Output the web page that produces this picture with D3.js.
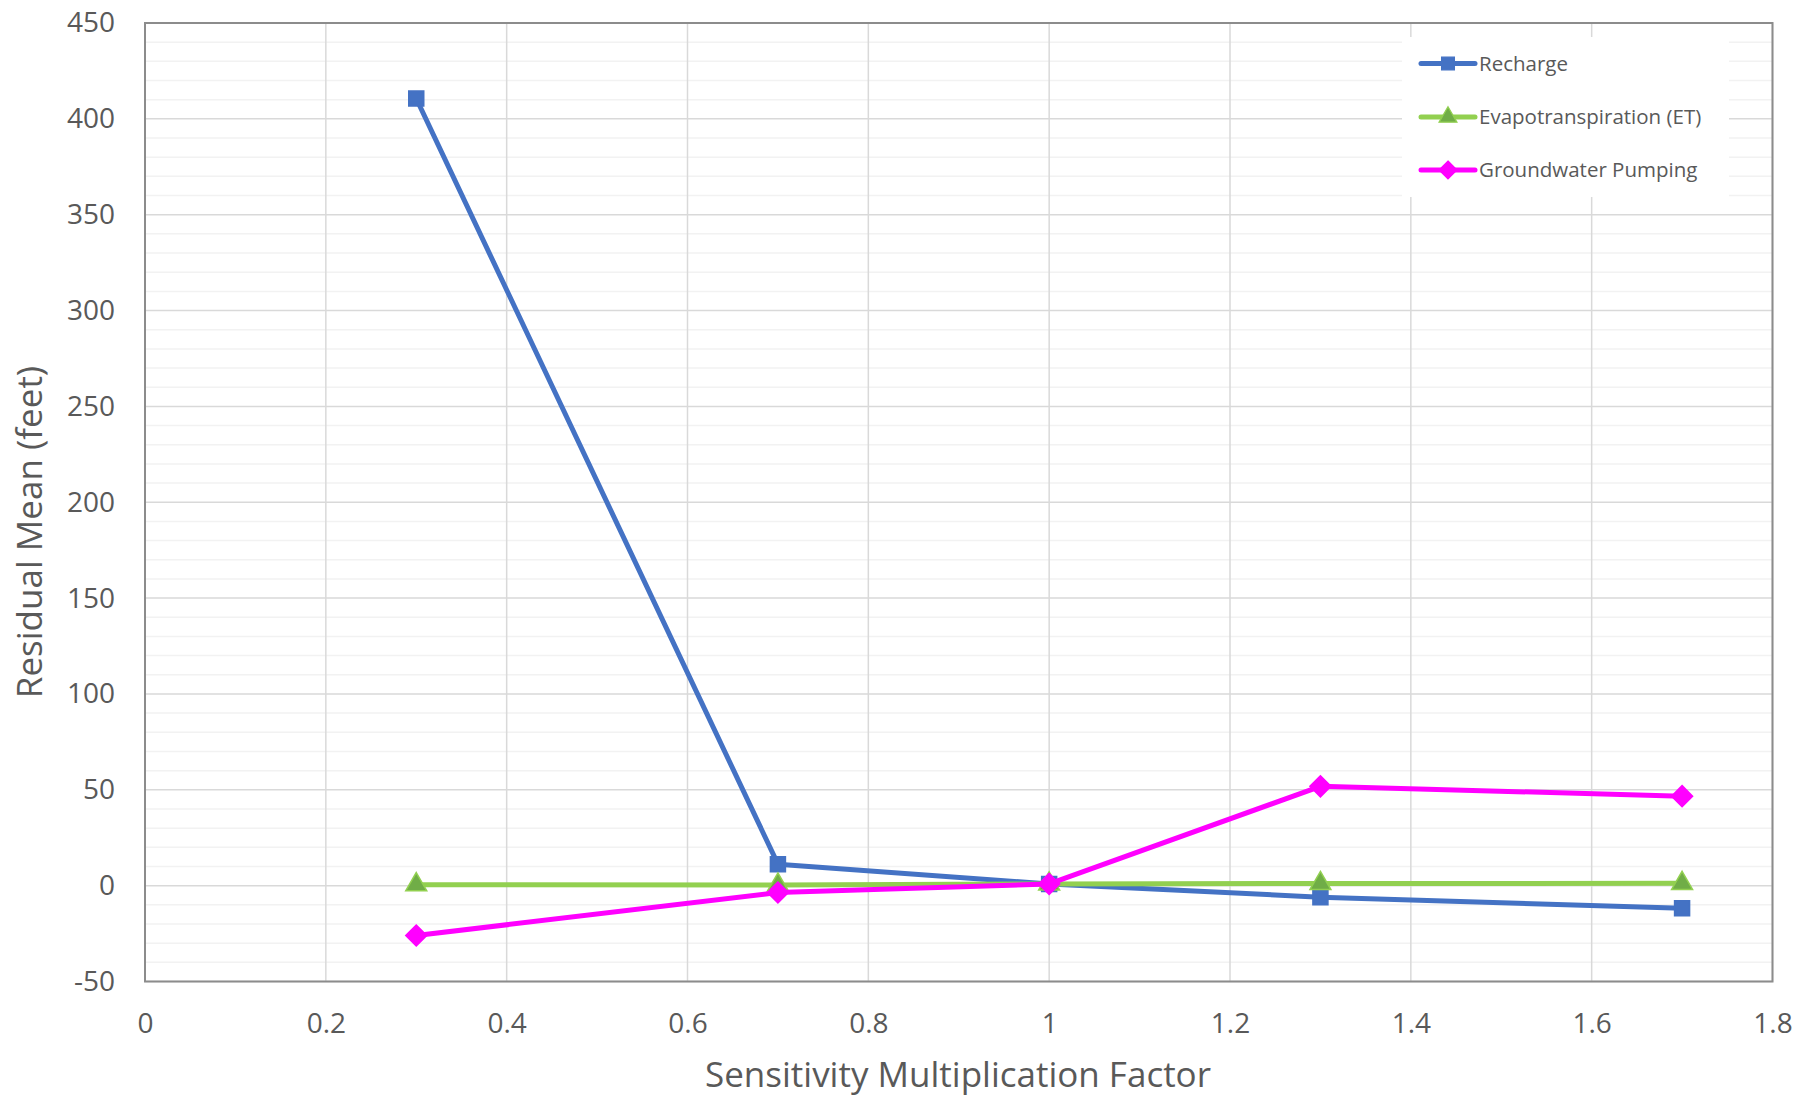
<!DOCTYPE html>
<html>
<head>
<meta charset="utf-8">
<script src="https://cdn.jsdelivr.net/npm/d3@7"></script>
<style>
  html, body { margin: 0; padding: 0; background: #fff; }
  svg { display: block; }
  text { font-family: "Open Sans", "Noto Sans", sans-serif; fill: #595959; }
</style>
</head>
<body>
<svg id="chart" width="1813" height="1096"></svg>
<script>
// Sensitivity multipliers applied to each model input
const factors = [0.3, 0.7, 1.0, 1.3, 1.7];

// Residual mean (feet) for each perturbed input
const rechargeValues = [410.6, 11.2, 0.9, -6.0, -11.8];
const etValues = [0.5, 0.3, 0.9, 1.1, 1.2];
const pumpingValues = [-26.0, -3.6, 0.9, 51.8, 46.7];

const seriesNames = ["Recharge", "Evapotranspiration (ET)", "Groundwater Pumping"];

// Axis ticks
const xTicks = [0, 0.2, 0.4, 0.6, 0.8, 1, 1.2, 1.4, 1.6, 1.8];
const yTicks = [-50, 0, 50, 100, 150, 200, 250, 300, 350, 400, 450];
const yMinorTicks = d3.range(-50, 451, 10);

const svg = d3.select("#chart");
const W = 1813, H = 1096;
const margin = { left: 145, right: W - 1772.5, top: 23, bottom: H - 981.5 };

const x = d3.scaleLinear().domain([0, 1.8]).range([margin.left, W - margin.right]);
const y = d3.scaleLinear().domain([-50, 450]).range([H - margin.bottom, margin.top]);

const grid = svg.append("g");
// minor horizontal gridlines
grid.selectAll("line.minor").data(yMinorTicks.filter(v => v % 50 !== 0)).join("line")
  .attr("x1", x(0)).attr("x2", x(1.8))
  .attr("y1", d => y(d)).attr("y2", d => y(d))
  .attr("stroke", "#F2F2F2").attr("stroke-width", 1.5);
// major horizontal gridlines
grid.selectAll("line.majorY").data(yTicks).join("line")
  .attr("x1", x(0)).attr("x2", x(1.8))
  .attr("y1", d => y(d)).attr("y2", d => y(d))
  .attr("stroke", "#D9D9D9").attr("stroke-width", 1.5);
// vertical gridlines
grid.selectAll("line.majorX").data(xTicks).join("line")
  .attr("x1", d => x(d)).attr("x2", d => x(d))
  .attr("y1", y(-50)).attr("y2", y(450))
  .attr("stroke", "#D9D9D9").attr("stroke-width", 1.5);

// plot area border
svg.append("rect")
  .attr("x", x(0)).attr("y", y(450))
  .attr("width", x(1.8) - x(0)).attr("height", y(-50) - y(450))
  .attr("fill", "none").attr("stroke", "#8C8C8C").attr("stroke-width", 2);

// axes (labels only; lines come from the border)
const xAxis = svg.append("g")
  .attr("transform", `translate(0,${y(-50)})`)
  .call(d3.axisBottom(x).tickValues(xTicks).tickSize(0).tickPadding(32).tickFormat(d => String(d)));
xAxis.select(".domain").remove();
xAxis.selectAll("text").attr("font-size", 28).attr("fill", "#595959")
  .attr("font-family", "'Open Sans', sans-serif");

const yAxis = svg.append("g")
  .attr("transform", `translate(${x(0)},0)`)
  .call(d3.axisLeft(y).tickValues(yTicks).tickSize(0).tickPadding(30).tickFormat(d => String(d)));
yAxis.select(".domain").remove();
yAxis.selectAll("text").attr("font-size", 28).attr("fill", "#595959")
  .attr("font-family", "'Open Sans', sans-serif");

// axis titles
svg.append("text")
  .attr("x", 958).attr("y", 1087)
  .attr("text-anchor", "middle").attr("font-size", 35)
  .text("Sensitivity Multiplication Factor");
svg.append("text")
  .attr("transform", `translate(42,532) rotate(-90)`)
  .attr("text-anchor", "middle").attr("font-size", 35)
  .text("Residual Mean (feet)");

// marker shapes
const squareSym = d3.symbol().type(d3.symbolSquare).size(225);
const triSym = d3.symbol().type(d3.symbolTriangle).size(190);
// rotated square, equal width and height
const diamondSym = () => "M0,-10.5L10.5,0L0,10.5L-10.5,0Z";

const series = [
  { name: seriesNames[0], values: rechargeValues, line: "#4472C4", fill: "#4472C4", stroke: "#4472C4", sym: squareSym },
  { name: seriesNames[1], values: etValues, line: "#92D050", fill: "#70AD47", stroke: "#92D050", sym: triSym },
  { name: seriesNames[2], values: pumpingValues, line: "#FF00FF", fill: "#FF00FF", stroke: "#FF00FF", sym: diamondSym }
];

const lineGen = d3.line().x(d => x(d[0])).y(d => y(d[1]));

series.forEach(s => {
  const pts = factors.map((f, i) => [f, s.values[i]]);
  const g = svg.append("g");
  g.append("path").datum(pts)
    .attr("d", lineGen)
    .attr("fill", "none").attr("stroke", s.line).attr("stroke-width", 5)
    .attr("stroke-linejoin", "round").attr("stroke-linecap", "round");
  g.selectAll("path.mk").data(pts).join("path")
    .attr("class", "mk")
    .attr("d", s.sym)
    .attr("transform", d => `translate(${x(d[0])},${y(d[1])})`)
    .attr("fill", s.fill).attr("stroke", s.stroke).attr("stroke-width", 1.5);
});

// legend
const legend = svg.append("g");
legend.append("rect")
  .attr("x", 1402).attr("y", 37).attr("width", 327).attr("height", 160)
  .attr("fill", "#fff");
const legendRows = [63.5, 117, 170];
series.forEach((s, i) => {
  const ly = legendRows[i];
  legend.append("line")
    .attr("x1", 1421).attr("x2", 1475).attr("y1", ly).attr("y2", ly)
    .attr("stroke", s.line).attr("stroke-width", 5).attr("stroke-linecap", "round");
  legend.append("path")
    .attr("d", s.sym)
    .attr("transform", `translate(1448,${ly}) scale(0.85)`)
    .attr("fill", s.fill).attr("stroke", s.stroke).attr("stroke-width", 1.5);
  legend.append("text")
    .attr("x", 1479).attr("y", ly).attr("dy", "0.35em")
    .attr("font-size", 20.5)
    .text(s.name);
});
</script>
</body>
</html>
